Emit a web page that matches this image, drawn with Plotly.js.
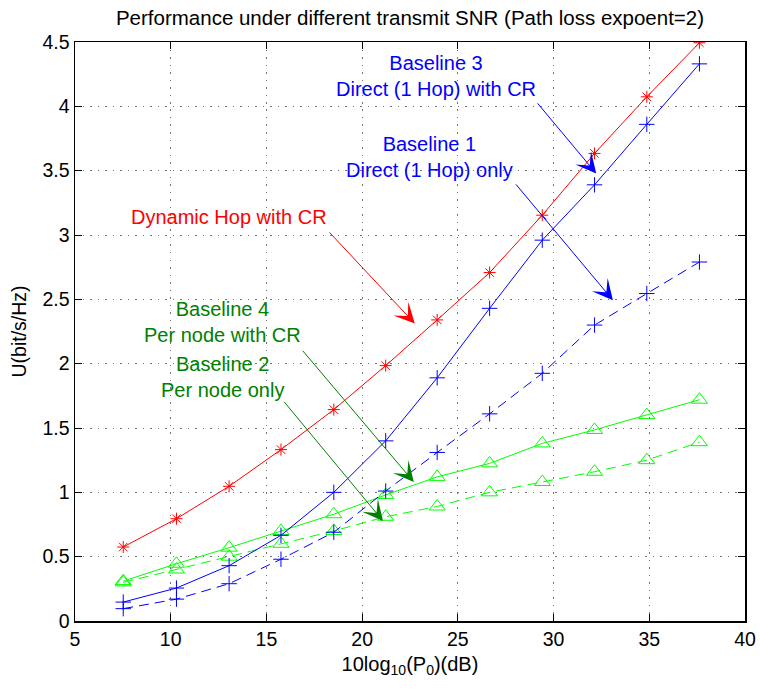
<!DOCTYPE html>
<html>
<head>
<meta charset="utf-8">
<script src="https://cdn.plot.ly/plotly-3.0.1.min.js"></script>
<style>html,body{margin:0;padding:0;background:#fff;}#chart{width:760px;height:693px;}</style>
</head>
<body>
<div id="chart"></div>
<script>
// Data
const snrDb = [7.52, 10.3, 13.05, 15.76, 18.52, 21.23, 23.92, 26.66, 29.41, 32.14, 34.87, 37.62];
const dynamicHopCR = [0.575, 0.795, 1.047, 1.332, 1.643, 1.985, 2.34, 2.708, 3.154, 3.634, 4.074, 4.494];
const baseline3DirectCR = [0.147, 0.256, 0.43, 0.666, 1.0, 1.40, 1.89, 2.43, 2.96, 3.39, 3.86, 4.33];
const baseline1DirectOnly = [0.096, 0.17, 0.29, 0.48, 0.69, 1.01, 1.31, 1.61, 1.925, 2.30, 2.545, 2.79];
const baseline4PerNodeCR = [0.31, 0.445, 0.57, 0.70, 0.83, 0.98, 1.12, 1.225, 1.38, 1.485, 1.60, 1.72];
const baseline2PerNodeOnly = [0.30, 0.40, 0.50, 0.60, 0.70, 0.81, 0.89, 1.0, 1.08, 1.16, 1.25, 1.39];
const xTicks = [5, 10, 15, 20, 25, 30, 35, 40];
const yTicks = [0, 0.5, 1, 1.5, 2, 2.5, 3, 3.5, 4, 4.5];

const FONT = '"Liberation Sans", Arial, Helvetica, sans-serif';

function series(y, color, symbol, size, dash) {
  return {
    x: snrDb, y: y, type: 'scatter', mode: 'lines+markers',
    line: {color: color, width: 1, dash: dash},
    marker: {symbol: symbol, size: size, color: color, line: {color: color, width: 1}},
    showlegend: false, hoverinfo: 'skip'
  };
}

const traces = [
  series(baseline2PerNodeOnly, '#00ff00', 'triangle-up-open', 14, '10px,6px'),
  series(baseline4PerNodeCR, '#00ff00', 'triangle-up-open', 14, 'solid'),
  series(baseline1DirectOnly, '#0000ff', 'cross-thin-open', 11, '10px,6px'),
  series(baseline3DirectCR, '#0000ff', 'cross-thin-open', 11, 'solid'),
  series(dynamicHopCR, '#ff0000', 'asterisk-open', 10, 'solid')
];

function label(text, x, y, color) {
  return {text: text, x: x, y: y, xref: 'x', yref: 'y', showarrow: false,
    xanchor: 'center', yanchor: 'middle', align: 'center',
    font: {family: FONT, size: 20, color: color}};
}
function arrow(tailX, tailY, tipX, tipY, color) {
  return {text: '', x: tipX, y: tipY, ax: tailX, ay: tailY, xref: 'x', yref: 'y',
    axref: 'x', ayref: 'y', showarrow: true, arrowhead: 3, arrowsize: 3.4,
    arrowwidth: 1, arrowcolor: color, standoff: 0, startstandoff: 0};
}

const annotations = [
  label('Baseline 3<br>Direct (1 Hop) with CR', 23.84, 4.235, '#0000ff'),
  label('Baseline 1<br>Direct (1 Hop) only', 23.53, 3.605, '#0000ff'),
  label('Dynamic Hop with CR', 13.04, 3.139, '#ff0000'),
  label('Baseline 4<br>Per node with CR', 12.7, 2.322, '#008000'),
  label('Baseline 2<br>Per node only', 12.7, 1.894, '#008000'),
  arrow(29.10, 4.035, 32.23, 3.478, '#0000ff'),
  arrow(27.97, 3.405, 33.10, 2.493, '#0000ff'),
  arrow(18.22, 3.032, 22.75, 2.312, '#ff0000'),
  arrow(16.83, 2.112, 22.70, 1.080, '#008000'),
  arrow(15.86, 1.715, 21.09, 0.777, '#008000')
];

const axisCommon = {
  showline: true, linecolor: '#000', linewidth: 1.5, mirror: 'allticks',
  ticks: 'inside', ticklen: 7, tickwidth: 1, tickcolor: '#000',
  showgrid: true, gridcolor: 'rgba(0,0,0,0.55)', gridwidth: 1, griddash: '1.5px,6px',
  zeroline: false, tickfont: {family: FONT, size: 19.5, color: '#000'}
};

const layout = {
  width: 760, height: 693,
  margin: {l: 75, r: 15, t: 42, b: 72, pad: 0},
  paper_bgcolor: '#fff', plot_bgcolor: '#fff',
  font: {family: FONT, color: '#000'},
  title: {text: 'Performance under different transmit SNR (Path loss expoent=2)',
    font: {family: FONT, size: 20.5, color: '#000'},
    xref: 'paper', x: 0.5, xanchor: 'center', yref: 'container', y: 1 - 18 / 693, yanchor: 'middle'},
  xaxis: Object.assign({}, axisCommon, {
    range: [5, 40], tickmode: 'array', tickvals: xTicks, ticktext: xTicks.map(String),
    title: {text: '10log<sub>10</sub>(P<sub>0</sub>)(dB)', font: {family: FONT, size: 20, color: '#000'}, standoff: 8}
  }),
  yaxis: Object.assign({}, axisCommon, {
    range: [0, 4.5], tickmode: 'array', tickvals: yTicks, ticktext: yTicks.map(String),
    title: {text: 'U(bit/s/Hz)', font: {family: FONT, size: 19.5, color: '#000'}, standoff: 10}
  }),
  annotations: annotations
};

Plotly.newPlot('chart', traces, layout, {displayModeBar: false, staticPlot: true});
</script>
</body>
</html>
